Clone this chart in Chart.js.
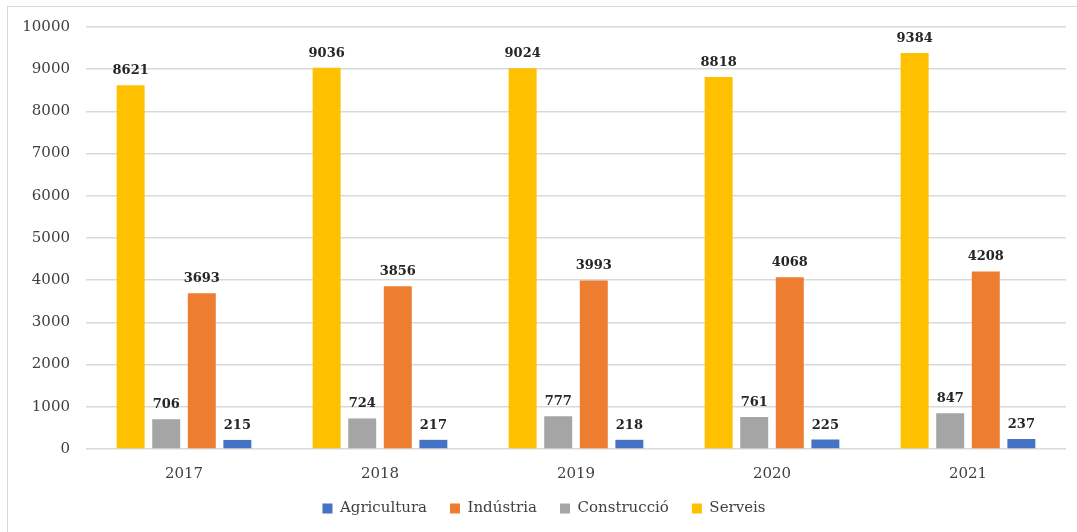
<!DOCTYPE html>
<html>
<head>
<meta charset="utf-8">
<script src="https://cdn.jsdelivr.net/npm/chart.js@4/dist/chart.umd.min.js"></script>
<style>
  html, body { margin: 0; padding: 0; background: #fff; overflow: hidden; }
  #wrap { position: relative; width: 1077px; height: 532px; }
  #frame { position: absolute; left: 7px; top: 6px; width: 1090px; height: 540px; border: 1.5px solid #d9d9d9; pointer-events: none; }
</style>
</head>
<body>
<div id="wrap">
  <canvas id="chart"></canvas>
  <div id="frame"></div>
</div>
<script>
// data
const years = ["2017", "2018", "2019", "2020", "2021"];
const serveis = [8621, 9036, 9024, 8818, 9384];
const construccio = [706, 724, 777, 761, 847];
const industria = [3693, 3856, 3993, 4068, 4208];
const agricultura = [215, 217, 218, 225, 237];
const yTicks = [0, 1000, 2000, 3000, 4000, 5000, 6000, 7000, 8000, 9000, 10000];

const FONT = '"DejaVu Serif", serif';

// draws the number above each bar
const valueLabels = {
  id: "valueLabels",
  afterDatasetsDraw(chart) {
    const ctx = chart.ctx;
    ctx.save();
    ctx.font = "bold 13px " + FONT;
    ctx.fillStyle = "#262626";
    ctx.textAlign = "center";
    ctx.textBaseline = "alphabetic";
    chart.data.datasets.forEach((ds, i) => {
      chart.getDatasetMeta(i).data.forEach((bar, j) => {
        ctx.fillText(ds.data[j], bar.x, bar.y - 11);
      });
    });
    ctx.restore();
  }
};

const bar = (label, data, color) => ({
  label,
  data,
  backgroundColor: color,
  borderWidth: 0,
  barPercentage: 0.786,
  categoryPercentage: 0.726,
});

new Chart(document.getElementById("chart"), {
  type: "bar",
  data: {
    labels: years,
    datasets: [
      bar("Serveis", serveis, "#FFC000"),
      bar("Construcció", construccio, "#A5A5A5"),
      bar("Indústria", industria, "#ED7D31"),
      bar("Agricultura", agricultura, "#4472C4"),
    ],
  },
  options: {
    responsive: true,
    maintainAspectRatio: false,
    animation: false,
    layout: { padding: { left: 22, right: 11, top: 27, bottom: 6 } },
    plugins: {
      tooltip: { enabled: false },
      legend: {
        position: "bottom",
        labels: {
          sort: (a, b) => b.datasetIndex - a.datasetIndex,
          boxWidth: 10,
          boxHeight: 10,
          padding: 23,
          color: "#404040",
          font: { family: FONT, size: 15 },
        },
      },
    },
    scales: {
      x: {
        grid: { display: false },
        border: { display: false },
        ticks: { color: "#404040", padding: 8, font: { family: FONT, size: 15 } },
        afterFit: s => { s.height = 29; },
      },
      y: {
        min: 0,
        max: 10000,
        afterBuildTicks: s => { s.ticks = yTicks.map(v => ({ value: v })); },
        grid: { color: "#d9d9d9", lineWidth: 1.5, drawTicks: false },
        border: { display: false },
        ticks: { color: "#404040", padding: 16, font: { family: FONT, size: 15 }, callback: v => String(v) },
        afterFit: s => { s.width = 64; },
      },
    },
  },
  plugins: [valueLabels],
});
</script>
</body>
</html>
